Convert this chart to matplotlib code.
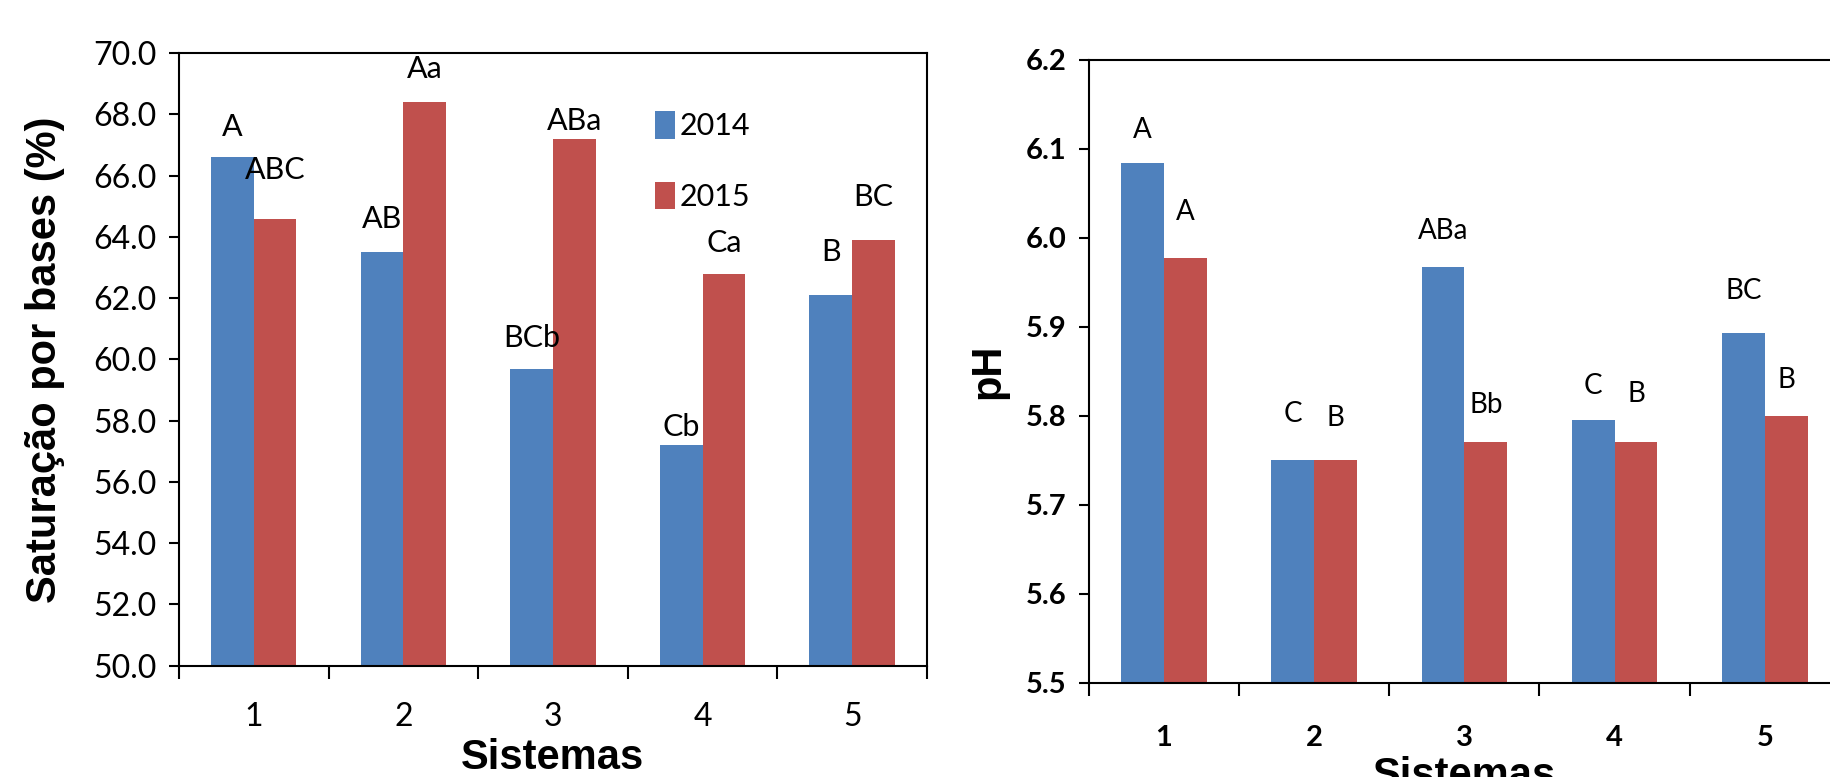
import matplotlib
matplotlib.use("Agg")
import matplotlib.pyplot as plt
from matplotlib import font_manager
import numpy as np

# data
sistemas = ["1", "2", "3", "4", "5"]
anos = ["2014", "2015"]
v_2014 = [66.6, 63.5, 59.7, 57.2, 62.1]
v_2015 = [64.6, 68.4, 67.2, 62.8, 63.9]
let_v_2014 = ["A", "AB", "BCb", "Cb", "B"]
let_v_2015 = ["ABC", "Aa", "ABa", "Ca", "BC"]
ph_2014 = [6.084, 5.75, 5.967, 5.795, 5.893]
ph_2015 = [5.977, 5.75, 5.771, 5.771, 5.80]
let_ph_2014 = ["A", "C", "ABa", "C", "BC"]
let_ph_2015 = ["A", "B", "Bb", "B", "B"]

# label offsets above the bars (manual text boxes in the original)
off_v_2014 = [1.0, 1.1, 1.0, 0.6, 1.4]
off_v_2015 = [1.6, 1.1, 0.6, 1.0, 1.4]
off_ph_2014 = [0.037, 0.052, 0.041, 0.039, 0.047]
off_ph_2015 = [0.052, 0.048, 0.041, 0.054, 0.04]

BLUE = "#4F81BD"
RED = "#C0504D"

installed = {f.name for f in font_manager.fontManager.ttflist}
narrow = "Liberation Sans Narrow" if "Liberation Sans Narrow" in installed else "Lato"
bold = "Liberation Sans" if "Liberation Sans" in installed else "DejaVu Sans"

fig = plt.figure(figsize=(18.3, 7.77), dpi=100)
ax1 = fig.add_axes([0.0978, 0.1435, 0.4087, 0.788])
ax2 = fig.add_axes([0.595, 0.121, 0.4104, 0.802])

w = 0.285
x = np.arange(len(sistemas))


def draw(ax, a, b, la, lb, oa, ob, ylim, yticks, tickweight, tsize, lsize, xpad):
    base = ylim[0]
    ax.bar(x - w / 2, np.array(a) - base, w, bottom=base, color=BLUE,
           label=anos[0], zorder=2)
    ax.bar(x + w / 2, np.array(b) - base, w, bottom=base, color=RED,
           label=anos[1], zorder=2)
    ax.set_ylim(*ylim)
    ax.set_xlim(-0.5, len(sistemas) - 0.5)
    ax.set_yticks(yticks)
    ax.set_yticklabels(["%.1f" % t for t in yticks], fontfamily=narrow,
                       fontsize=tsize, fontweight=tickweight)
    ax.set_xticks(x)
    ax.set_xticklabels(sistemas, fontfamily=narrow, fontsize=tsize,
                       fontweight=tickweight)
    ax.set_xticks(np.arange(-0.5, len(sistemas)), minor=True)
    ax.tick_params(axis="x", which="major", length=0, pad=xpad)
    ax.tick_params(axis="x", which="minor", length=9, width=1.5, direction="out")
    ax.tick_params(axis="y", length=7, width=1.5, direction="out", pad=9)
    for s in ax.spines.values():
        s.set_linewidth(1.5)
    for i in range(len(sistemas)):
        ax.text(x[i] - w / 2, a[i] + oa[i], la[i], ha="center", va="center",
                fontfamily=narrow, fontsize=lsize)
        ax.text(x[i] + w / 2, b[i] + ob[i], lb[i], ha="center", va="center",
                fontfamily=narrow, fontsize=lsize)


draw(ax1, v_2014, v_2015, let_v_2014, let_v_2015, off_v_2014, off_v_2015,
     (50, 70), np.arange(50, 70.1, 2), "normal", 23, 22, 26)
draw(ax2, ph_2014, ph_2015, let_ph_2014, let_ph_2015, off_ph_2014, off_ph_2015,
     (5.5, 6.2), np.round(np.arange(5.5, 6.21, 0.1), 1), "bold", 21, 20, 30)

ax1.legend(loc="upper left", bbox_to_anchor=(0.6, 0.95), frameon=False,
           prop={"family": narrow, "size": 22}, handlelength=0.65,
           handleheight=1.0, handletextpad=0.15, labelspacing=1.35)

ax1.set_ylabel("Saturação por bases (%)", fontfamily=bold, fontweight="bold",
               fontsize=30)
ax1.yaxis.set_label_coords(-0.153, 0.5)
ax1.set_xlabel("Sistemas", fontfamily=bold, fontweight="bold", fontsize=30)
ax1.xaxis.set_label_coords(0.5, -0.118)

ax2.set_ylabel("pH", fontfamily=bold, fontweight="bold", fontsize=30)
ax2.yaxis.set_label_coords(-0.107, 0.5)
ax2.set_xlabel("Sistemas", fontfamily=bold, fontweight="bold", fontsize=30)
ax2.xaxis.set_label_coords(0.5, -0.117)

fig.savefig("out.png", dpi=100)
